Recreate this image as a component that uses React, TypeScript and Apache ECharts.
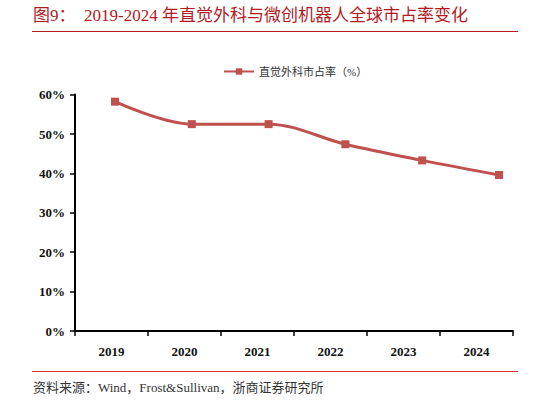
import React, { useEffect, useRef } from "react";
import * as echarts from "echarts";

const categories = ["2019", "2020", "2021", "2022", "2023", "2024"];
const shareValues = [58.2, 52.5, 52.5, 47.4, 43.3, 39.6];
const seriesName = "直觉外科市占率（%）";
const titleLabel = "图9：";
const titleText = "2019-2024 年直觉外科与微创机器人全球市占率变化";
const sourceText = "资料来源：Wind，Frost&Sullivan，浙商证券研究所";

const SERIF = "'Liberation Serif', 'Times New Roman', 'Noto Sans CJK SC', serif";
const RED = "#C0504D";
const TITLE_RED = "#B3191F";

export default function App() {
  const ref = useRef<HTMLDivElement>(null);
  useEffect(() => {
    document.body.style.margin = "0";
    const chart = echarts.init(ref.current!, null, { renderer: "svg" });
    chart.setOption({
      animation: false,
      backgroundColor: "#ffffff",
      legend: {
        top: 61,
        left: 218,
        itemWidth: 30,
        itemHeight: 8,
        itemGap: 10,
        textStyle: { fontSize: 11, color: "#333", fontFamily: SERIF },
        data: [seriesName],
      },
      grid: [
        { left: 75, right: 35, top: 94.6, bottom: 71, containLabel: false },
        { left: 115, right: 49, top: 94.6, bottom: 71, containLabel: false },
      ],
      xAxis: [
        {
          type: "category",
          gridIndex: 0,
          data: categories,
          boundaryGap: true,
          axisLine: { lineStyle: { color: "#000", width: 2 } },
          axisTick: { show: true, length: 5, lineStyle: { color: "#000", width: 1.5 } },
          axisLabel: {
            color: "#111",
            fontSize: 13,
            fontWeight: "bold",
            fontFamily: SERIF,
            margin: 14,
          },
        },
        {
          type: "category",
          gridIndex: 1,
          data: categories,
          boundaryGap: false,
          show: false,
        },
      ],
      yAxis: [
        {
          type: "value",
          gridIndex: 0,
          min: 0,
          max: 60,
          interval: 10,
          axisLine: { show: true, lineStyle: { color: "#000", width: 2 } },
          axisTick: { show: true, length: 5, lineStyle: { color: "#000", width: 1.5 } },
          splitLine: { show: false },
          axisLabel: {
            formatter: "{value}%",
            color: "#111",
            fontSize: 13,
            fontWeight: "bold",
            fontFamily: SERIF,
            margin: 10,
          },
        },
        {
          type: "value",
          gridIndex: 1,
          min: 0,
          max: 60,
          show: false,
        },
      ],
      series: [
        {
          name: seriesName,
          type: "line",
          xAxisIndex: 1,
          yAxisIndex: 1,
          data: shareValues,
          smooth: 0.35,
          symbol: "rect",
          symbolSize: 8,
          lineStyle: { color: RED, width: 3 },
          itemStyle: { color: RED },
        },
      ],
      graphic: [
        {
          type: "text",
          left: 33,
          top: 7,
          style: { text: titleLabel, fontSize: 17, fill: TITLE_RED, fontFamily: SERIF },
        },
        {
          type: "text",
          left: 84,
          top: 7,
          style: { text: titleText, fontSize: 17, fill: TITLE_RED, fontFamily: SERIF },
        },
        {
          type: "line",
          shape: { x1: 32, y1: 31.5, x2: 518, y2: 31.5 },
          style: { stroke: TITLE_RED, lineWidth: 1 },
        },
        {
          type: "line",
          shape: { x1: 32, y1: 371.5, x2: 518, y2: 371.5 },
          style: { stroke: "#E03030", lineWidth: 1 },
        },
        {
          type: "text",
          left: 33,
          top: 381,
          style: { text: sourceText, fontSize: 13, fill: "#333", fontFamily: SERIF },
        },
      ],
    });
    return () => chart.dispose();
  }, []);
  return <div ref={ref} style={{ width: 548, height: 402, position: "absolute", left: 0, top: 0 }} />;
}
